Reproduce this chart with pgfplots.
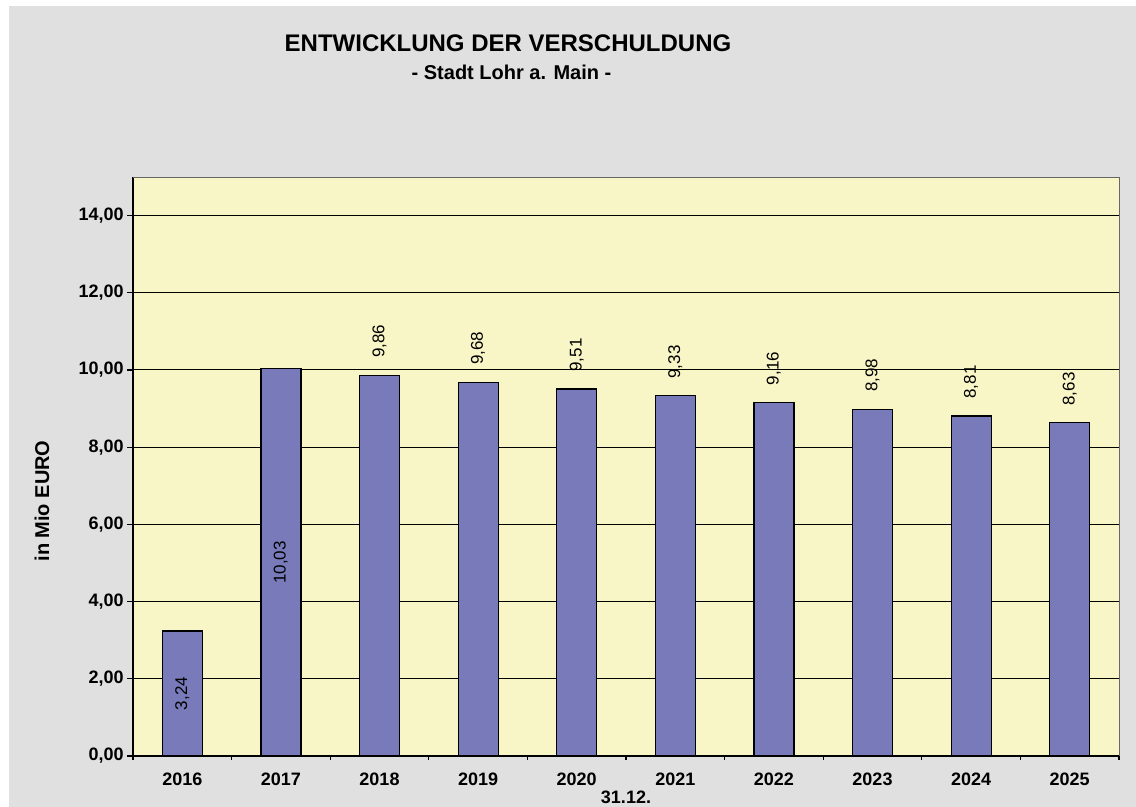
\documentclass[border=0pt]{standalone}
\usepackage{fontspec}
\setmainfont{Liberation Sans}
\usepackage{pgfplots}
\pgfplotsset{compat=1.18}
\definecolor{bggray}{RGB}{224,224,224}
\definecolor{plotyellow}{RGB}{248,246,198}
\definecolor{barblue}{RGB}{120,122,186}
\begin{document}
\begin{tikzpicture}
\useasboundingbox (0,0) rectangle (568pt,403.5pt);
\fill[white] (0,0) rectangle (568pt,403.5pt);
\fill[bggray] (4.5pt,0) rectangle (568pt,400.5pt);
\node[font=\bfseries\fontsize{12}{14}\selectfont] at (254pt,382pt) {ENTWICKLUNG DER VERSCHULDUNG};
\node[font=\bfseries\fontsize{10}{12}\selectfont] at (255.75pt,367.5pt) {- Stadt Lohr a. Main -};
\node[rotate=90,font=\bfseries\fontsize{10}{12}\selectfont] at (21pt,153pt) {in Mio EURO};
\node[font=\bfseries\fontsize{9}{11}\selectfont, anchor=base] at (313pt,1.8pt) {31.12.};
\begin{axis}[
  at={(66.5pt,25.5pt)}, anchor=south west,
  scale only axis, width=493pt, height=289.5pt,
  xmin=-0.5, xmax=9.5, ymin=0, ymax=15,
  axis x line=bottom, axis y line=left,
  axis line style={black, line width=0.6pt, -},
  axis background/.style={fill=plotyellow},
  xtick={0,...,9},
  xticklabels={2016,2017,2018,2019,2020,2021,2022,2023,2024,2025},
  minor xtick={-0.5,0.5,...,9.5},
  major x tick style={draw=none},
  tick style={black, line width=0.6pt},
  tick align=outside,
  major tick length=3pt, minor tick length=2pt,
  ytick={0,2,...,14},
  ymajorgrids,
  major grid style={black, line width=0.5pt},
  yticklabel={\pgfmathprintnumber[fixed,fixed zerofill,precision=2,use comma]{\tick}},
  /pgf/number format/assume math mode=true,
  ticklabel style={font=\bfseries\fontsize{9}{11}\selectfont},
  xticklabel style={yshift=-2pt},
  yticklabel style={inner sep=0pt, xshift=-1.5pt},
  clip=false,
  after end axis/.code={\draw[gray!80!black, line width=0.4pt] (rel axis cs:0,1) -- (rel axis cs:1,1) -- (rel axis cs:1,0);},
]
\addplot[ybar, bar width=20pt, fill=barblue, draw=black, line width=0.6pt]
  coordinates {(0,3.24) (1,10.03) (2,9.86) (3,9.68) (4,9.51) (5,9.33) (6,9.16) (7,8.98) (8,8.81) (9,8.63)};
\addplot[draw=none, mark=none, point meta=y,
  nodes near coords={\pgfmathprintnumber[fixed,fixed zerofill,precision=2,use comma]{\pgfplotspointmeta}},
  nodes near coords style={rotate=90, anchor=west, inner xsep=8.5pt, inner ysep=0pt, font=\fontsize{8.5}{10}\selectfont, text=black}]
  coordinates {(2,9.86) (3,9.68) (4,9.51) (5,9.33) (6,9.16) (7,8.98) (8,8.81) (9,8.63)};
\addplot[draw=none, mark=none, point meta=explicit,
  nodes near coords={\pgfmathprintnumber[fixed,fixed zerofill,precision=2,use comma]{\pgfplotspointmeta}},
  nodes near coords style={rotate=90, anchor=center, inner sep=0pt, font=\fontsize{8.5}{10}\selectfont, text=black}]
  coordinates {(0,1.62) [3.24] (1,5.015) [10.03]};
\end{axis}
\end{tikzpicture}
\end{document}
